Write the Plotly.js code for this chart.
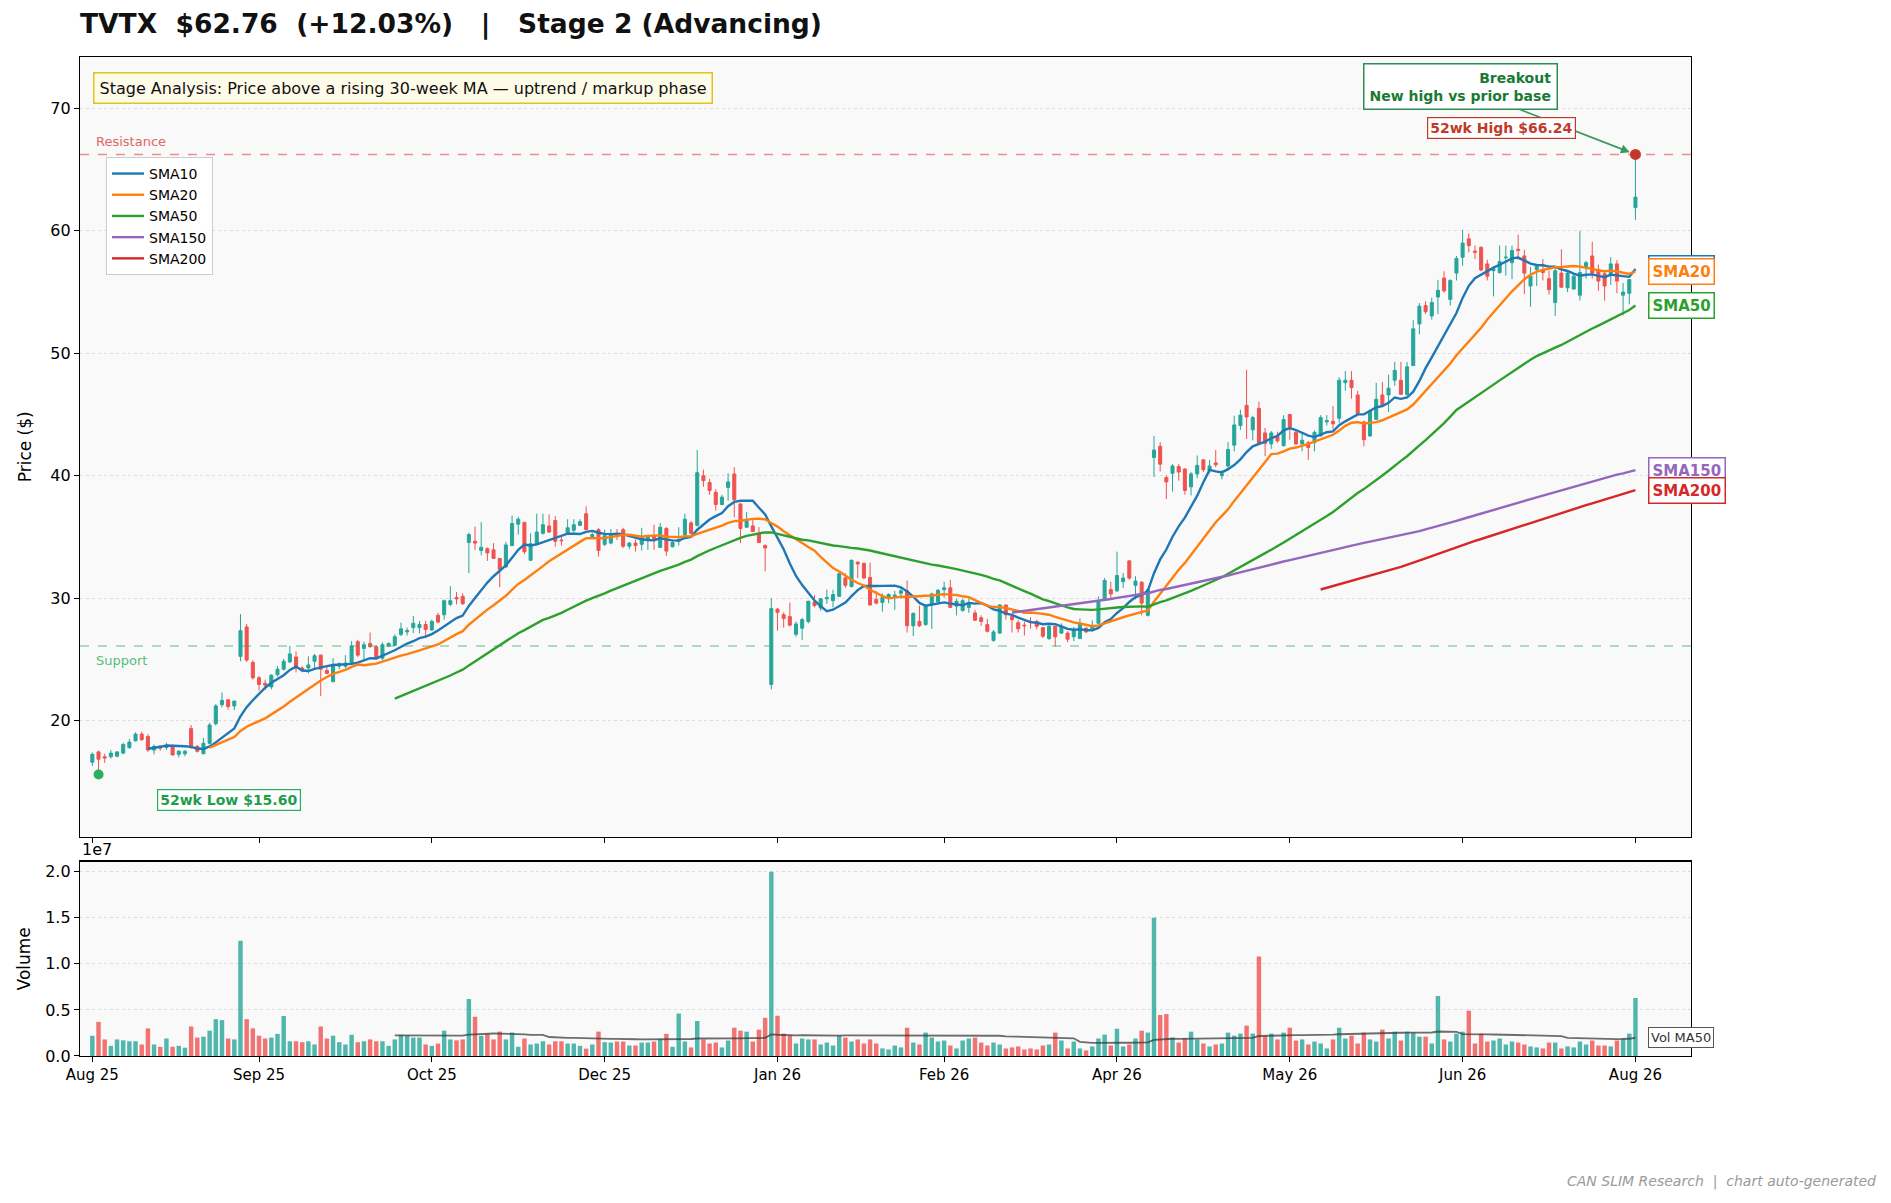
<!DOCTYPE html>
<html>
<head>
<meta charset="utf-8">
<script src="https://cdn.plot.ly/plotly-3.0.1.min.js"></script>
<style>html,body{margin:0;padding:0;background:#fff;}#chart{width:1891px;height:1203px;}</style>
</head>
<body>
<div id="chart"></div>
<script>
// ---------------- DATA ----------------
const ticker = "TVTX";
const lastPrice = 62.76;
const pctChange = 12.03;
const stageLabel = "Stage 2 (Advancing)";
const high52 = 66.24;
const low52 = 15.60;
const resistanceLevel = 66.24;
const supportLevel = 26.1;

const tickIndex = [0, 27, 55, 83, 111, 138, 166, 194, 222, 250];
const tickLabels = ["Aug 25", "Sep 25", "Oct 25", "Dec 25", "Jan 26", "Feb 26", "Apr 26", "May 26", "Jun 26", "Aug 26"];

const openP = [16.6,17.45,17.05,17.05,17.1,17.35,17.8,18.35,18.9,18.7,17.6,17.9,17.8,17.95,17.25,17.3,19.35,17.9,17.3,18.15,
19.75,21.3,21.7,21.2,25.25,27.65,24.75,23.5,23.05,22.75,23.75,24.2,24.8,25.2,24.3,24.3,24.85,25.35,24.1,23.2,
24.45,24.45,24.7,26.45,25.9,26.3,26.03,25.1,26.1,26.15,27.05,27.25,27.6,27.6,27.85,27.4,28.6,28.65,29.5,30.05,
30.15,34.55,34.65,33.9,34.05,33.95,33.25,32.55,34.3,36.05,36.2,33.1,34.45,35.3,35.9,36.35,34.75,35.3,35.55,35.95,
36.9,35.0,35.6,34.4,34.5,35.25,35.6,34.25,34.5,34.4,34.8,35.05,34.15,35.7,34.2,34.65,35.2,36.15,35.95,40.0,
39.45,38.65,37.65,39.05,40.15,37.7,35.8,35.9,35.3,34.3,22.95,29.1,28.65,28.5,27.05,27.55,28.1,29.7,29.2,29.95,
29.8,30.15,31.65,30.95,32.95,32.85,31.7,29.9,29.65,30.1,30.15,30.4,30.6,27.75,28.1,27.85,29.5,29.7,30.7,30.85,
29.35,29.0,29.25,28.8,28.4,27.85,26.55,27.15,29.45,28.5,28.0,27.8,28.1,28.1,27.6,26.7,27.7,27.15,27.15,26.85,
26.7,27.55,27.5,27.95,29.95,30.7,30.6,31.35,33.05,31.05,31.3,28.6,41.5,42.4,39.85,40.2,40.75,40.55,39.1,40.15,
41.3,40.4,41.05,40.0,40.8,42.5,44.1,45.75,43.75,45.5,43.5,42.6,43.2,42.45,45.0,43.55,42.6,42.7,42.7,43.25,
44.4,44.45,44.7,47.6,47.8,46.6,44.4,43.25,44.6,46.6,46.6,47.8,47.8,46.65,49.0,52.4,53.9,53.05,54.6,56.15,
54.4,56.55,57.85,59.35,58.35,58.65,57.3,56.75,56.6,57.8,57.4,58.5,57.95,55.5,56.85,56.8,56.1,54.15,56.55,55.35,
55.25,54.75,57.05,57.95,56.85,56.5,56.35,57.3,54.75,54.9,61.9];

const highP = [17.4,17.55,17.3,17.6,17.5,18.2,18.5,19.05,19.1,18.9,18.05,18.0,18.2,18.05,17.6,17.6,19.65,18.0,18.6,19.8,
21.35,22.3,21.75,21.6,28.7,27.9,24.95,23.65,23.35,23.8,24.45,25.05,26.1,25.65,24.45,25.25,25.45,25.4,24.45,25.1,
24.75,25.35,26.5,26.6,26.45,27.2,26.15,26.4,26.4,27.05,28.0,27.6,28.55,28.15,28.15,28.25,28.8,29.9,30.98,30.5,
30.4,35.35,35.85,36.2,34.15,34.5,33.25,34.6,36.75,36.65,36.2,35.3,36.9,36.9,36.85,36.7,35.1,36.45,36.45,36.45,
37.5,35.35,35.75,35.6,35.65,35.65,35.75,34.6,34.8,35.75,35.1,36.0,36.15,35.8,34.65,35.8,36.9,36.3,42.1,40.5,
39.75,38.9,38.45,40.2,40.7,37.75,37.05,36.5,35.8,34.4,30.0,29.2,28.85,29.65,28.1,28.4,29.8,30.25,30.0,30.7,
30.7,32.05,32.05,33.15,33.0,32.9,32.9,30.6,30.4,30.4,30.6,30.9,31.45,28.85,29.4,29.5,30.45,30.75,31.35,31.5,
29.95,29.95,30.0,29.05,28.6,28.3,27.4,29.5,29.45,28.55,28.2,28.1,28.45,28.25,27.65,27.8,27.75,27.95,27.3,27.65,
28.35,27.65,28.2,30.15,31.65,31.35,33.8,32.05,33.1,31.8,31.4,30.8,43.25,42.75,40.05,40.95,40.95,40.6,40.3,41.65,
41.35,41.3,42.1,40.45,42.75,44.9,45.4,48.65,44.9,46.05,43.9,43.65,43.6,44.95,45.0,43.7,43.5,42.85,43.7,44.95,
44.95,45.7,48.05,48.55,48.55,46.95,44.5,45.4,47.6,47.65,48.25,49.3,49.3,49.3,52.7,54.1,54.25,54.55,56.0,56.7,
56.05,57.95,60.1,59.8,58.8,58.75,57.65,57.1,58.8,58.8,58.8,59.7,58.45,57.05,57.25,57.7,56.75,56.95,58.5,56.75,
56.55,60.0,57.55,59.1,57.25,56.75,57.85,57.6,55.75,55.95,66.24];

const lowP = [16.3,15.6,16.55,16.9,17.0,17.25,17.7,18.3,18.35,17.45,17.25,17.55,17.6,17.15,17.0,17.1,17.7,17.4,17.25,18.05,
19.6,21.1,20.9,20.85,24.85,24.8,23.35,22.45,22.5,22.55,23.6,24.1,24.7,23.95,23.95,23.85,24.15,22.0,23.8,23.1,
24.2,24.3,24.55,25.2,24.95,25.95,25.0,24.95,26.0,26.1,26.9,26.95,27.15,27.15,26.8,27.35,27.95,28.25,29.35,29.5,
29.45,32.05,33.95,33.5,33.05,33.2,30.9,32.5,34.25,35.2,33.6,33.05,34.4,35.2,35.35,34.2,34.3,35.2,35.35,35.9,
35.55,34.9,33.4,34.25,34.4,34.75,34.1,34.0,33.8,33.9,33.95,33.95,34.1,33.45,34.15,34.3,35.05,35.2,35.85,39.1,
38.45,37.15,37.6,37.95,36.6,34.5,35.75,35.4,34.5,32.2,22.55,27.35,27.6,27.7,26.85,26.6,27.95,29.25,28.95,29.55,
29.25,30.1,30.85,30.9,31.65,31.55,29.4,29.5,28.9,29.6,29.05,29.95,27.2,26.9,27.65,27.75,27.5,29.55,30.05,29.2,
28.6,28.9,28.8,28.15,27.75,27.2,26.45,27.1,28.25,27.2,27.2,26.95,27.5,27.45,26.75,26.6,26.05,27.1,26.4,26.5,
26.7,27.15,27.3,27.9,29.9,29.9,30.5,30.85,31.5,29.9,28.6,28.5,39.9,40.35,38.1,38.7,39.6,38.45,38.4,39.8,
40.3,40.2,40.7,39.7,40.4,42.0,43.75,43.0,42.9,42.55,41.6,42.2,42.7,42.4,42.95,42.5,42.0,41.3,42.0,43.2,
44.1,43.8,44.3,46.95,46.3,44.85,42.4,43.2,44.55,45.7,45.2,47.35,46.6,46.5,48.95,51.55,53.2,52.75,53.2,54.95,
53.9,55.95,57.15,58.25,57.7,56.7,55.95,54.65,56.5,56.35,56.05,57.65,54.85,53.8,55.5,55.95,54.8,53.05,55.35,55.0,
55.2,54.3,56.1,56.1,55.1,54.3,55.6,54.9,53.1,54.0,60.9];

const closeP = [17.25,16.85,16.95,17.35,17.45,18.05,18.25,18.9,18.45,17.6,17.9,17.75,18.0,17.2,17.5,17.5,17.8,17.5,18.15,19.65,
21.2,21.65,21.15,21.6,27.35,24.95,23.5,22.95,22.9,23.7,24.2,24.85,25.45,24.3,24.1,24.55,25.3,24.2,23.85,24.6,
24.65,24.7,26.1,25.35,26.2,26.05,25.1,26.2,26.3,26.85,27.5,27.35,27.95,27.85,27.45,28.1,28.05,29.8,29.8,29.95,
29.55,35.2,34.5,34.15,33.7,33.25,32.35,34.35,36.1,36.45,33.8,34.45,35.4,36.0,35.4,34.65,34.7,35.75,36.0,36.25,
35.6,35.2,33.9,35.1,35.15,35.05,34.25,34.5,34.3,35.05,35.05,34.85,35.8,33.85,34.55,34.8,36.45,35.3,40.25,39.6,
38.8,37.65,38.25,39.5,38.05,35.7,36.3,35.45,34.55,34.1,29.15,28.85,28.35,27.8,27.9,28.25,29.75,29.4,29.95,30.05,
30.3,32.0,31.05,33.1,32.8,31.65,29.45,29.6,30.05,30.3,30.25,30.6,27.75,28.75,27.75,29.35,30.35,30.65,30.85,29.25,
29.75,29.8,29.65,28.2,28.1,27.3,27.25,29.45,28.65,28.25,27.5,27.75,28.0,27.7,26.9,27.7,26.85,27.7,26.65,27.45,
27.85,27.25,27.7,29.7,31.45,30.35,31.85,31.65,31.65,31.4,29.6,30.7,42.1,40.95,39.5,40.8,40.3,38.8,40.15,40.85,
40.5,40.8,40.9,40.15,42.15,44.15,44.95,44.8,44.75,42.65,42.65,43.5,42.85,44.6,44.0,42.6,42.9,42.3,43.55,44.75,
44.5,44.25,47.8,47.8,47.2,45.1,42.95,45.3,46.25,45.8,47.15,48.6,46.65,48.9,52.0,53.85,53.4,54.15,55.15,55.1,
55.95,57.75,59.0,58.8,58.25,56.8,56.3,56.9,57.5,57.85,58.4,58.4,56.55,56.3,57.1,56.6,55.2,56.75,55.4,56.55,
56.3,56.6,57.4,56.55,55.9,55.5,57.3,55.9,55.0,56.02,62.76];

// volume in millions of shares
const volumeM = [2.2,3.7,1.8,1.1,1.8,1.7,1.6,1.6,1.25,3.0,1.25,1.0,1.9,1.0,1.1,0.9,3.2,2.0,2.1,2.75,
4.0,3.9,1.9,1.8,12.5,4.0,3.0,2.2,1.9,2.0,2.4,4.35,1.6,1.6,1.5,1.6,1.25,3.2,1.9,2.2,
1.5,1.25,2.3,1.5,1.6,1.8,1.6,1.6,1.1,1.8,2.3,2.2,2.0,2.0,1.25,1.1,1.35,2.75,1.8,1.7,
1.8,6.2,4.25,2.2,2.4,1.8,2.65,1.8,2.55,1.0,1.9,1.25,1.35,1.6,1.25,1.6,1.6,1.35,1.35,1.1,
0.8,1.25,2.65,1.5,1.46,1.57,1.57,1.14,1.14,1.46,1.46,1.57,1.8,2.4,1.0,4.6,1.57,0.93,3.8,1.8,
1.36,1.46,0.93,1.68,3.07,2.75,2.64,1.57,2.86,4.14,20.0,4.36,2.43,2.21,1.36,1.9,1.8,1.8,1.25,1.46,
1.14,2.21,2.0,1.57,1.8,1.36,1.8,1.36,0.82,0.71,1.14,0.93,3.07,1.46,1.25,2.54,2.0,1.57,1.68,1.14,
0.82,1.68,1.9,2.0,1.46,1.14,1.46,1.25,0.82,0.93,1.04,0.71,0.82,0.71,1.14,1.25,2.54,1.68,0.82,1.57,
0.82,0.61,1.04,1.9,2.32,1.14,2.96,1.04,1.25,1.9,2.75,2.54,15.0,4.46,4.57,2.0,1.46,1.9,2.64,1.8,
1.36,1.04,1.25,1.36,2.54,2.21,2.43,3.3,2.43,10.8,2.21,2.43,1.8,2.54,3.07,1.68,1.8,1.25,1.57,1.36,
0.82,1.8,3.07,1.9,2.21,1.36,2.54,1.8,1.57,2.86,1.9,2.64,1.68,2.64,2.54,2.1,2.1,1.36,6.5,1.8,
1.57,2.43,2.64,4.9,1.36,2.43,1.57,1.68,1.9,1.25,1.57,1.46,1.25,1.04,0.93,0.82,1.46,1.46,0.82,1.04,
0.93,1.57,1.25,1.68,1.14,1.14,1.04,1.68,1.9,2.43,6.3];

const smaPeriods = [10, 20, 50, 150, 200];
const smaNames = ["SMA10", "SMA20", "SMA50", "SMA150", "SMA200"];
const smaColors = ["#1f77b4", "#ff7f0e", "#2ca02c", "#9467bd", "#d62728"];
const volMaPeriod = 50;

// ---------------- BUILD ----------------
const n = closeP.length;
const idx = closeP.map((_, i) => i);
const volume = volumeM.map(v => v * 1e6);

function sma(arr, p) {
  const out = [];
  let s = 0;
  for (let i = 0; i < arr.length; i++) {
    s += arr[i];
    if (i >= p) s -= arr[i - p];
    out.push(i >= p - 1 ? s / p : null);
  }
  return out;
}

const UP = "#26a69a", DN = "#ef5350";
const FONT = "DejaVu Sans, Liberation Sans, sans-serif";

const traces = [];
traces.push({
  type: "candlestick", x: idx, open: openP, high: highP, low: lowP, close: closeP,
  xaxis: "x", yaxis: "y", showlegend: false, whiskerwidth: 0,
  increasing: {line: {color: UP, width: 1}, fillcolor: UP},
  decreasing: {line: {color: DN, width: 1}, fillcolor: DN},
  hoverinfo: "skip"
});

const smaSeries = smaPeriods.map(p => sma(closeP, p));
smaSeries.forEach((s, k) => {
  traces.push({
    type: "scatter", mode: "lines", x: idx, y: s, name: smaNames[k],
    line: {color: smaColors[k], width: 2.4}, xaxis: "x", yaxis: "y", hoverinfo: "skip"
  });
});

// 52-week markers
const iHigh = highP.indexOf(Math.max(...highP));
const iLow = lowP.indexOf(Math.min(...lowP));
traces.push({type: "scatter", mode: "markers", x: [iLow], y: [low52], xaxis: "x", yaxis: "y",
  marker: {color: "#27ae60", size: 10}, showlegend: false, hoverinfo: "skip"});
traces.push({type: "scatter", mode: "markers", x: [iHigh], y: [high52], xaxis: "x", yaxis: "y",
  marker: {color: "#c0392b", size: 11}, showlegend: false, hoverinfo: "skip"});

// volume
traces.push({
  type: "bar", x: idx, y: volume, xaxis: "x2", yaxis: "y2", width: 0.72, showlegend: false,
  marker: {color: idx.map(i => closeP[i] >= openP[i] ? "rgba(38,166,154,0.8)" : "rgba(239,83,80,0.8)"), line: {width: 0}},
  hoverinfo: "skip"
});
const volMa = sma(volume, volMaPeriod);
traces.push({type: "scatter", mode: "lines", x: idx, y: volMa, xaxis: "x2", yaxis: "y2",
  line: {color: "rgba(60,60,60,0.75)", width: 1.8}, showlegend: false, hoverinfo: "skip"});

// ---------------- LAYOUT ----------------
const W = 1891, H = 1203;
const mL = 80, mR = 200, mT = 57, mB = 146.5;
const plotH = H - mT - mB;
const py = Y => (H - mB - Y) / plotH;   // pixel row -> paper y
const px = X => (X - mL) / (W - mL - mR); // pixel col -> paper x

const annotations = [];
annotations.push({xref: "paper", yref: "paper", x: px(93), y: py(72), xanchor: "left", yanchor: "top",
  text: "Stage Analysis: Price above a rising 30-week MA \u2014 uptrend / markup phase", showarrow: false,
  font: {family: FONT, size: 16, color: "#111"}, bgcolor: "#fffbe9", bordercolor: "#e2c21c", borderwidth: 1.5, borderpad: 5});
annotations.push({xref: "x", yref: "y", x: 0.2, y: resistanceLevel, xanchor: "left", yanchor: "bottom", yshift: 3,
  text: "Resistance", showarrow: false, font: {family: FONT, size: 13, color: "#e06666"}});
annotations.push({xref: "x", yref: "y", x: 0.2, y: supportLevel, xanchor: "left", yanchor: "top", yshift: -5,
  text: "Support", showarrow: false, font: {family: FONT, size: 13, color: "#52c07a"}});
annotations.push({xref: "x", yref: "y", x: iLow + 21.2, y: low52 - 2.05,
  text: "<b>52wk Low $" + low52.toFixed(2) + "</b>", showarrow: false,
  font: {family: FONT, size: 14, color: "#1e9e4a"}, bgcolor: "#ffffff", bordercolor: "#27ae60", borderwidth: 1.2, borderpad: 2});
annotations.push({xref: "x", yref: "y", x: iHigh, y: high52, axref: "x", ayref: "y", ax: iHigh - 28.3, ay: high52 + 5.55,
  text: "<b>Breakout</b><br><b>New high vs prior base</b>", align: "right", showarrow: true,
  arrowhead: 2, arrowsize: 1, arrowwidth: 1.8, arrowcolor: "#3c9a5f", standoff: 6,
  font: {family: FONT, size: 14, color: "#1a7a35"}, bgcolor: "#ffffff", bordercolor: "#2e8b57", borderwidth: 1.5, borderpad: 5});
annotations.push({xref: "x", yref: "y", x: iHigh - 21.7, y: high52 + 2.13,
  text: "<b>52wk High $" + high52.toFixed(2) + "</b>", showarrow: false,
  font: {family: FONT, size: 14, color: "#c0392b"}, bgcolor: "#ffffff", bordercolor: "#c0392b", borderwidth: 1.2, borderpad: 2});
// SMA end labels
smaSeries.forEach((s, k) => {
  annotations.push({xref: "paper", yref: "y", x: px(1648), y: s[n - 1], xanchor: "left", yanchor: "middle",
    text: "<b>" + smaNames[k] + "</b>", showarrow: false,
    font: {family: FONT, size: 15, color: smaColors[k]}, bgcolor: "#ffffff", bordercolor: smaColors[k], borderwidth: 1.5, borderpad: 3});
});
annotations.push({xref: "paper", yref: "y2", x: px(1648), y: volMa[n - 1], xanchor: "left", yanchor: "middle",
  text: "Vol MA50", showarrow: false, font: {family: FONT, size: 13, color: "#333"},
  bgcolor: "#ffffff", bordercolor: "#555", borderwidth: 1, borderpad: 2});
annotations.push({xref: "paper", yref: "paper", x: 0, y: py(850), xanchor: "left", yanchor: "middle",
  text: "1e7", showarrow: false, font: {family: FONT, size: 16, color: "#000"}});
annotations.push({xref: "paper", yref: "paper", x: px(1878), y: py(1182), xanchor: "right", yanchor: "middle",
  text: "CAN SLIM Research  |  chart auto-generated", showarrow: false,
  font: {family: FONT, size: 14, color: "#9a9a9a", style: "italic"}});

const shapes = [
  {type: "line", xref: "x", yref: "y", x0: -2, x1: 259, y0: resistanceLevel, y1: resistanceLevel,
   line: {color: "rgba(214,39,40,0.5)", width: 1.5, dash: "dash"}},
  {type: "line", xref: "x", yref: "y", x0: -2, x1: 259, y0: supportLevel, y1: supportLevel,
   line: {color: "rgba(44,170,90,0.5)", width: 1.5, dash: "dash"}}
];

const nb = "\u00a0";
const titleText = "<b>" + ticker + nb + nb + "$" + lastPrice.toFixed(2) + nb + nb + "(+" + pctChange.toFixed(2) + "%)" +
  nb + nb + nb + "|" + nb + nb + nb + stageLabel + "</b>";

const axCommon = {showline: true, mirror: true, linecolor: "#000", linewidth: 1.2, ticks: "outside", ticklen: 5,
  tickcolor: "#000", zeroline: false, tickfont: {family: FONT, size: 16, color: "#000"}};

const layout = {
  width: W, height: H,
  margin: {l: mL, r: mR, t: mT, b: mB},
  paper_bgcolor: "#ffffff", plot_bgcolor: "#f9f9f9",
  font: {family: FONT, color: "#000"},
  title: {text: titleText, x: 0, xref: "paper", xanchor: "left", y: 1 - 24 / H, yref: "container", yanchor: "middle",
    font: {family: FONT, size: 26.5, color: "#111"}},
  showlegend: true,
  legend: {x: px(106), y: py(157), xanchor: "left", yanchor: "top", bgcolor: "rgba(255,255,255,0.9)",
    bordercolor: "#cccccc", borderwidth: 1, font: {family: FONT, size: 14}, itemwidth: 32, tracegroupgap: 0},
  xaxis: Object.assign({}, axCommon, {domain: [0, 1], range: [-2, 259], anchor: "y", tickvals: tickIndex,
    showticklabels: false, showgrid: false, rangeslider: {visible: false}}),
  xaxis2: Object.assign({}, axCommon, {domain: [0, 1], range: [-2, 259], anchor: "y2", tickvals: tickIndex,
    ticktext: tickLabels, showgrid: false, tickfont: {family: FONT, size: 15, color: "#000"}}),
  yaxis: Object.assign({}, axCommon, {domain: [py(837), 1], range: [10.53, 74.2], anchor: "x",
    tickvals: [20, 30, 40, 50, 60, 70], showgrid: true, gridcolor: "#dddddd", griddash: "dot", gridwidth: 1,
    title: {text: "Price ($)", font: {family: FONT, size: 17}, standoff: 14}}),
  yaxis2: Object.assign({}, axCommon, {domain: [0, py(862)], range: [0, 2.11e7], anchor: "x2",
    tickvals: [0, 5e6, 1e7, 1.5e7, 2e7], ticktext: ["0.0", "0.5", "1.0", "1.5", "2.0"],
    showgrid: true, gridcolor: "#dddddd", griddash: "dot", gridwidth: 1,
    title: {text: "Volume", font: {family: FONT, size: 17}, standoff: 10}}),
  annotations: annotations, shapes: shapes, bargap: 0.2
};

Plotly.newPlot("chart", traces, layout, {displayModeBar: false, staticPlot: true});
</script>
</body>
</html>
